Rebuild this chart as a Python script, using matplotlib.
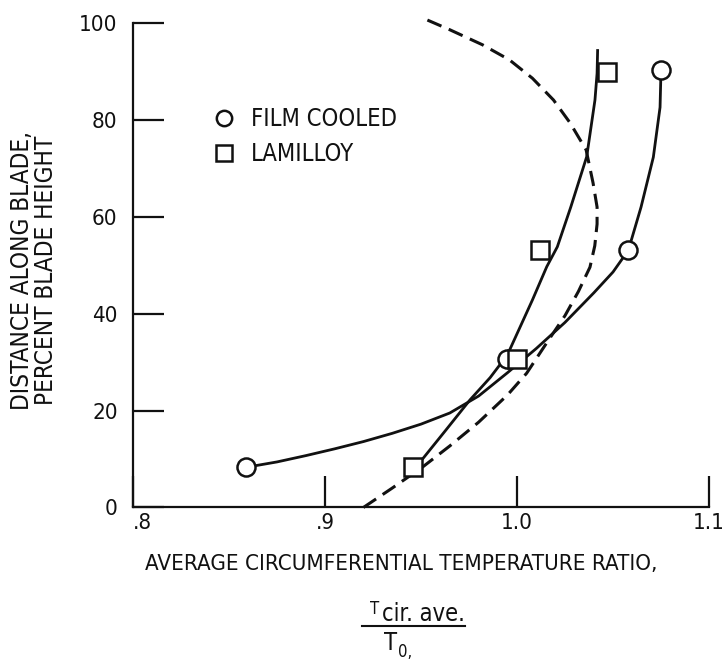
import matplotlib
matplotlib.use('Agg')
import matplotlib.pyplot as plt
from matplotlib.lines import Line2D

plt.rcParams['font.family'] = ['DejaVu Sans']
plt.rcParams['font.stretch'] = 'condensed'

# measured points
film_x = [0.859, 0.995, 1.058, 1.075]
film_y = [8.3, 30.6, 53.1, 90.3]
lam_x = [0.946, 1.000, 1.012, 1.047]
lam_y = [8.3, 30.6, 53.1, 89.8]

# faired curves
film_curve_x = [0.859, 0.875, 0.890, 0.905, 0.920, 0.935, 0.950, 0.965, 0.980, 0.995, 1.010,
                1.025, 1.040, 1.050, 1.058, 1.0646, 1.071, 1.0745, 1.075]
film_curve_y = [8.3, 9.4, 10.7, 12.1, 13.6, 15.3, 17.2, 19.5, 23.0, 27.8, 32.8,
                38.2, 44.3, 48.6, 53.1, 62.0, 72.3, 82.6, 90.3]
lam_curve_x = [0.946, 0.951, 0.963, 0.9755, 0.986, 0.995, 1.008, 1.0155, 1.021, 1.028, 1.0363, 1.0406, 1.0417, 1.042]
lam_curve_y = [8.3, 10.1, 16.0, 22.2, 26.8, 31.5, 42.8, 49.7, 53.8, 62.0, 72.4, 84.1, 89.6, 94.6]
dash_x = [0.920, 0.935, 0.951, 0.965, 0.980, 0.995, 1.005, 1.0155, 1.025, 1.032, 1.038, 1.0405,
          1.0417, 1.0417, 1.0396, 1.036, 1.0276, 1.019, 1.008, 0.996, 0.982, 0.965, 0.951]
dash_y = [0.0, 4.0, 8.4, 12.7, 17.6, 23.2, 27.7, 34.0, 39.6, 44.6, 49.6, 54.0,
          58.5, 62.0, 67.0, 73.8, 79.4, 84.1, 88.6, 92.4, 95.5, 98.6, 101.0]

xticks = [0.8, 0.9, 1.0, 1.1]
xticklabels = ['.8', '.9', '1.0', '1.1']
yticks = [0, 20, 40, 60, 80, 100]

ink = '#111111'

fig = plt.figure(figsize=(7.24, 6.6), dpi=100)
ax = fig.add_axes([0.1837, 0.2311, 0.7956, 0.7341])

ax.plot(film_curve_x, film_curve_y, color=ink, lw=2.0, solid_capstyle='butt', clip_on=False)
ax.plot(lam_curve_x, lam_curve_y, color=ink, lw=2.0, solid_capstyle='butt', clip_on=False)
ax.plot(dash_x, dash_y, color=ink, lw=2.2, linestyle=(0, (5, 2.6)), clip_on=False)

ax.plot(film_x, film_y, 'o', ms=13, mfc='white', mec=ink, mew=1.8, ls='none',
        clip_on=False, zorder=5, label='FILM COOLED')
ax.plot(lam_x, lam_y, 's', ms=13, mfc='white', mec=ink, mew=1.8, ls='none',
        clip_on=False, zorder=5, label='LAMILLOY')

ax.set_xlim(0.8, 1.1)
ax.set_ylim(0, 100)
ax.set_xticks(xticks)
ax.set_xticklabels(xticklabels)
ax.set_yticks(yticks)

for side in ['top', 'right']:
    ax.spines[side].set_visible(False)
for side in ['left', 'bottom']:
    ax.spines[side].set_linewidth(1.6)
    ax.spines[side].set_color(ink)

ax.tick_params(axis='both', direction='in', length=22, width=1.6, color=ink,
               labelsize=16, labelcolor=ink)
ax.tick_params(axis='y', pad=11)
ax.tick_params(axis='x', pad=4)
ax.get_xticklabels()[0].set_horizontalalignment('left')

leg = ax.legend(loc='upper left', bbox_to_anchor=(0.137, 0.826), frameon=False,
                fontsize=17, numpoints=1, handlelength=1.0, handletextpad=0.65,
                labelspacing=0.45, borderpad=0, borderaxespad=0, markerscale=0.85)
for t in leg.get_texts():
    t.set_color(ink)

# axis titles
fig.text(34 / 724, 1 - 270 / 660, 'DISTANCE ALONG BLADE,\nPERCENT BLADE HEIGHT',
         rotation=90, ha='center', va='center', multialignment='center',
         fontsize=17.5, linespacing=1.0, color=ink)
fig.text(401 / 724, 1 - 564 / 660, 'AVERAGE CIRCUMFERENTIAL TEMPERATURE RATIO,',
         ha='center', va='center', fontsize=16, color=ink)

# ratio T cir. ave. / T0
fig.text(375 / 724, 1 - 609 / 660, 'T', ha='center', va='center', fontsize=12, color=ink)
fig.text(382 / 724, 1 - 614 / 660, 'cir. ave.', ha='left', va='center', fontsize=17, color=ink)
fig.add_artist(Line2D([362 / 724, 465 / 724], [1 - 626 / 660, 1 - 626 / 660],
                      transform=fig.transFigure, color=ink, lw=1.5))
fig.text(390 / 724, 1 - 643 / 660, 'T', ha='center', va='center', fontsize=17, color=ink)
fig.text(398 / 724, 1 - 652 / 660, '0,', ha='left', va='center', fontsize=12, color=ink)

fig.savefig('out.png', dpi=100, facecolor='white')
